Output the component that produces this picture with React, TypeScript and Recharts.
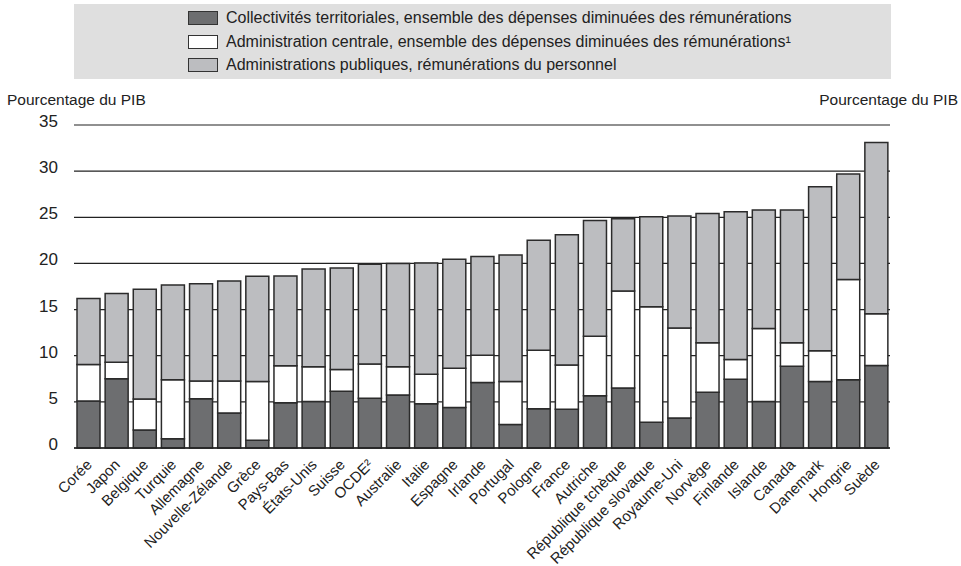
import { BarChart, Bar, XAxis, YAxis, CartesianGrid } from 'recharts';

// Dépenses des administrations, en % du PIB
const countries = [
  'Corée', 'Japon', 'Belgique', 'Turquie', 'Allemagne', 'Nouvelle-Zélande', 'Grèce', 'Pays-Bas',
  'États-Unis', 'Suisse', 'OCDE²', 'Australie', 'Italie', 'Espagne', 'Irlande', 'Portugal',
  'Pologne', 'France', 'Autriche', 'République tchèque', 'République slovaque', 'Royaume-Uni',
  'Norvège', 'Finlande', 'Islande', 'Canada', 'Danemark', 'Hongrie', 'Suède',
];

const localSpending = [
  5.1, 7.5, 1.95, 1.0, 5.35, 3.8, 0.85, 4.9, 5.05, 6.15, 5.4, 5.75, 4.8, 4.4, 7.1,
  2.55, 4.25, 4.2, 5.65, 6.5, 2.8, 3.25, 6.05, 7.45, 5.05, 8.85, 7.2, 7.4, 8.95,
];

const centralSpending = [
  3.95, 1.8, 3.35, 6.4, 1.9, 3.45, 6.35, 4.0, 3.75, 2.35, 3.7, 3.05, 3.2, 4.25, 2.95,
  4.65, 6.35, 4.8, 6.45, 10.5, 12.5, 9.75, 5.35, 2.15, 7.9, 2.55, 3.35, 10.85, 5.6,
];

const compensation = [
  7.15, 7.45, 11.9, 10.25, 10.55, 10.85, 11.4, 9.75, 10.6, 11.0, 10.8, 11.2, 12.05, 11.8, 10.7,
  13.7, 11.9, 14.1, 12.55, 7.85, 9.75, 12.15, 14.0, 16.0, 12.85, 14.4, 17.75, 11.45, 18.55,
];

const yTicks = [0, 5, 10, 15, 20, 25, 30, 35];

const legendItems = [
  { label: 'Collectivités territoriales, ensemble des dépenses diminuées des rémunérations', color: '#6d6e70' },
  { label: 'Administration centrale, ensemble des dépenses diminuées des rémunérations¹', color: '#ffffff' },
  { label: 'Administrations publiques, rémunérations du personnel', color: '#bcbdc0' },
];

const data = countries.map((name, i) => ({
  name,
  local: localSpending[i],
  central: centralSpending[i],
  comp: compensation[i],
}));

const FONT = '"Liberation Sans", Arial, sans-serif';

function CountryTick({ x, y, payload }: any) {
  return (
    <g transform={`translate(${x + 1},${y + 6}) rotate(-45)`}>
      <text textAnchor="end" fontSize={15} fill="#222" fontFamily={FONT} dy="0.35em">
        {payload.value}
      </text>
    </g>
  );
}

function ValueTick({ x, y, payload, textAnchor }: any) {
  return (
    <text x={x} y={y} dy={2} textAnchor={textAnchor} fontSize={17} fill="#222" fontFamily={FONT}>
      {payload.value}
    </text>
  );
}

export default function App() {
  return (
    <div style={{ position: 'absolute', left: 0, top: 0, width: 961, height: 566, fontFamily: FONT, color: '#222' }}>
      <div
        style={{
          position: 'absolute', left: 74, top: 4, width: 817, height: 75, background: '#dfdfdf',
        }}
      >
        {legendItems.map((item, i) => (
          <div
            key={item.label}
            style={{ position: 'absolute', left: 114, top: 5 + i * 23.5, display: 'flex', alignItems: 'center', height: 18 }}
          >
            <div style={{ width: 28, height: 12, background: item.color, border: '1px solid #333', marginRight: 8 }} />
            <span style={{ fontSize: 16, whiteSpace: 'nowrap' }}>{item.label}</span>
          </div>
        ))}
      </div>
      <div style={{ position: 'absolute', left: 7, top: 91, fontSize: 15.5 }}>Pourcentage du PIB</div>
      <div style={{ position: 'absolute', right: 3, top: 91, fontSize: 15.5 }}>Pourcentage du PIB</div>

      <BarChart
        width={961}
        height={566}
        data={data}
        margin={{ top: 125, right: 0, bottom: 0, left: 0 }}
        barSize={23}
      >
        <CartesianGrid yAxisId="left" vertical={false} stroke="#222" strokeWidth={1.2} />
        <XAxis
          dataKey="name"
          interval={0}
          height={118}
          axisLine={{ stroke: '#222', strokeWidth: 1.5 }}
          tickLine={false}
          tick={<CountryTick />}
        />
        <YAxis
          yAxisId="left"
          orientation="left"
          width={74}
          domain={[0, 35]}
          ticks={yTicks}
          axisLine={false}
          tickLine={false}
          tickSize={0}
          tickMargin={16}
          tick={<ValueTick />}
        />
        <YAxis
          yAxisId="right"
          orientation="right"
          width={71}
          domain={[0, 35]}
          ticks={yTicks}
          axisLine={false}
          tickLine={false}
          tickSize={0}
          tickMargin={15}
          tick={<ValueTick />}
        />
        <Bar yAxisId="left" dataKey="local" stackId="s" fill="#6d6e70" stroke="#2b2b2b" strokeWidth={1.5} isAnimationActive={false} />
        <Bar yAxisId="left" dataKey="central" stackId="s" fill="#ffffff" stroke="#2b2b2b" strokeWidth={1.5} isAnimationActive={false} />
        <Bar yAxisId="left" dataKey="comp" stackId="s" fill="#bcbdc0" stroke="#2b2b2b" strokeWidth={1.5} isAnimationActive={false} />
      </BarChart>
    </div>
  );
}
